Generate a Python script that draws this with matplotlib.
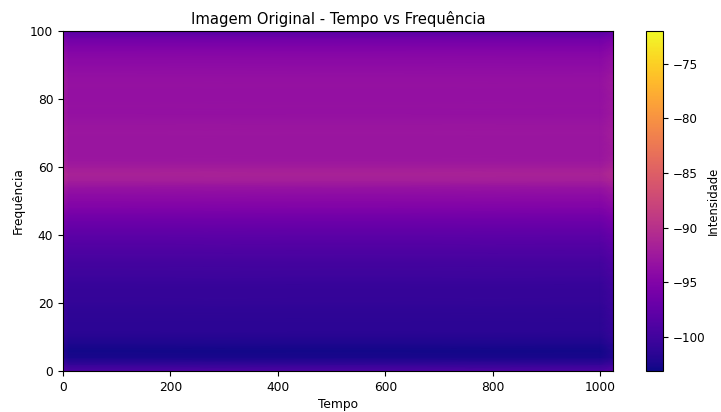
import numpy as np
import matplotlib
matplotlib.use('agg')
import matplotlib.pyplot as plt

plt.rcParams['font.size'] = 8.8

# frequency rows (Hz) and mean intensity per row
freqs = np.arange(0, 101, 2)
freq_db = [-99.0, -101.0, -102.6, -102.8, -102.3, -101.8, -101.5, -101.4, -101.3, -101.2,
           -101.0, -100.9, -100.8, -100.6, -100.3, -100.0, -99.7, -99.3, -98.9, -98.4,
           -97.9, -97.3, -96.7, -96.0, -95.2, -94.5, -93.9, -93.2, -92.0, -91.5,
           -92.2, -92.8, -93.0, -93.0, -92.9, -92.8, -93.0, -93.2, -93.4, -93.3,
           -93.5, -93.4, -93.3, -93.4, -93.7, -94.0, -94.3, -94.8, -95.5, -96.5,
           -98.5]

# time columns and the small lift seen at the two edges
times = [0, 12, 512, 1000, 1024]
edge_boost = [1.0, 0.0, 0.0, 0.0, 0.8]

vmin, vmax = -103.1, -72.0

Z = np.array(freq_db)[:, None] + np.array(edge_boost)[None, :]

fig = plt.figure(figsize=(7.21, 4.12), dpi=100)
ax = fig.add_axes([63/721, 41/412, 550/721, 340/412])
cax = fig.add_axes([646/721, 41/412, 17/721, 340/412])

pm = ax.pcolormesh(times, freqs, Z, shading='gouraud', cmap='plasma', vmin=vmin, vmax=vmax)
ax.set_xlim(0, 1024)
ax.set_ylim(0, 100)
ax.set_title('Imagem Original - Tempo vs Frequência', fontsize=10.6, pad=5)
ax.set_xlabel('Tempo', labelpad=3)
ax.set_ylabel('Frequência', labelpad=4)

cb = fig.colorbar(pm, cax=cax)
cb.ax.tick_params(labelsize=8.6)
cb.set_label('Intensidade', fontsize=8.4)
cb.ax.yaxis.set_label_coords(3.6, 0.5)

fig.savefig('out.png', dpi=100)
